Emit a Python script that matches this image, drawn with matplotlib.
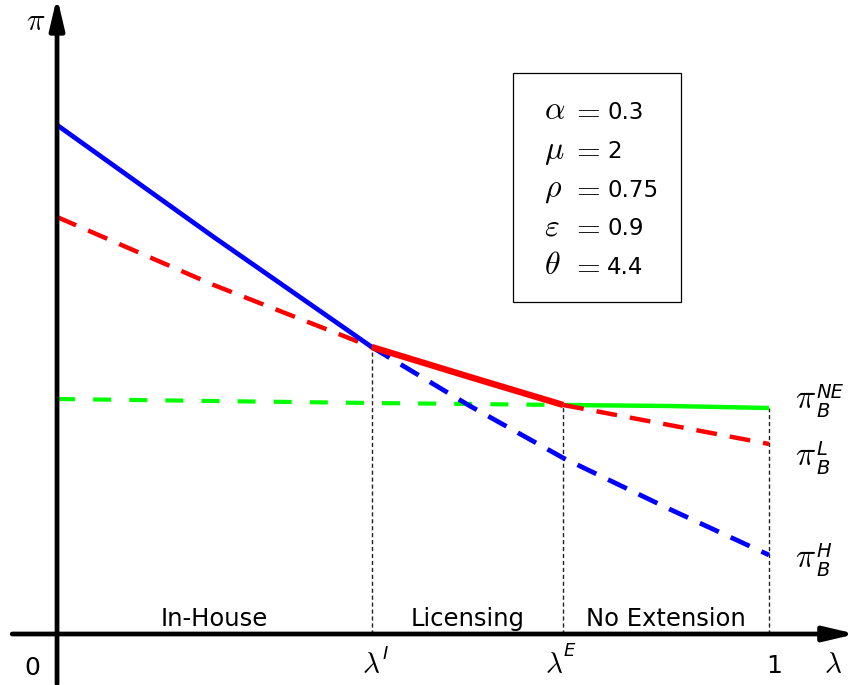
import matplotlib.pyplot as plt
from matplotlib.patches import FancyArrowPatch, Rectangle

plt.rcParams['mathtext.fontset'] = 'cm'
plt.rcParams['lines.scale_dashes'] = False

# profits at a few values of lambda
lam = [0.0, 0.22, 0.442, 0.58, 0.711, 0.86, 1.0]
pi_H = [5.09, 3.97, 2.87, 2.28, 1.76, 1.25, 0.79]
pi_L = [4.17, 3.49, 2.87, 2.57, 2.29, 2.09, 1.90]
pi_NE = [2.35, 2.33, 2.31, 2.30, 2.29, 2.28, 2.26]
I_IDX = 2   # lambda^I
E_IDX = 4   # lambda^E

regions = ['In-House', 'Licensing', 'No Extension']
param_names = [r'\alpha', r'\mu', r'\rho', r'\varepsilon', r'\theta']
param_values = ['0.3', '2', '0.75', '0.9', '4.4']
curve_supers = ['NE', 'L', 'H']

fig = plt.figure(figsize=(8.52, 6.85), dpi=100)
ax = fig.add_axes([0, 0, 1, 1])
ax.set_xlim(-0.0801, 1.1166)
ax.set_ylim(-0.51, 6.34)
ax.axis('off')

dash = (0, (15, 9.4))
dash_g = (0, (13, 13))

# green: no extension
ax.plot(lam[:E_IDX + 1], pi_NE[:E_IDX + 1], color='#00ff00', lw=3.0, linestyle=dash_g, zorder=2)
ax.plot(lam[E_IDX:], pi_NE[E_IDX:], color='#00ff00', lw=3.2, solid_capstyle='butt', zorder=2)
# red: licensing
ax.plot(lam[:I_IDX + 1], pi_L[:I_IDX + 1], color='red', lw=3.2, linestyle=dash, zorder=3)
ax.plot(lam[E_IDX:], pi_L[E_IDX:], color='red', lw=3.2, linestyle=dash, zorder=3)
# blue: in-house
ax.plot(lam[:I_IDX + 1], pi_H[:I_IDX + 1], color='blue', lw=3.4, solid_capstyle='butt', zorder=4)
ax.plot(lam[I_IDX:], pi_H[I_IDX:], color='blue', lw=3.4, linestyle=dash, zorder=4)
ax.plot(lam[I_IDX:E_IDX + 1], pi_L[I_IDX:E_IDX + 1], color='red', lw=4.6, solid_capstyle='butt', zorder=5)

# thin guides down to the axis
ax.plot([lam[I_IDX]] * 2, [0, pi_L[I_IDX]], color='#222222', lw=1.0, linestyle=(0, (3, 2)), zorder=1)
ax.plot([lam[E_IDX]] * 2, [0, pi_L[E_IDX]], color='#222222', lw=1.0, linestyle=(0, (3, 2)), zorder=1)
ax.plot([lam[-1]] * 2, [0, pi_NE[-1]], color='#222222', lw=1.0, linestyle=(0, (3, 2)), zorder=1)

# axes with arrow heads
astyle = '-|>,head_length=0.85,head_width=0.2'
ax.add_patch(FancyArrowPatch((-0.063, 0), (1.122, 0), arrowstyle=astyle, mutation_scale=22,
                             lw=3.4, color='black', shrinkA=0, shrinkB=0, zorder=6, clip_on=False))
ax.add_patch(FancyArrowPatch((0, -0.5), (0, 6.37), arrowstyle=astyle, mutation_scale=22,
                             lw=3.4, color='black', shrinkA=0, shrinkB=0, zorder=6, clip_on=False))

# axis labels
ax.text(-0.044, 6.04, r'$\pi$', fontsize=22, va='baseline')
ax.text(1.077, -0.39, r'$\lambda$', fontsize=21, va='baseline')
ax.text(-0.035, -0.41, '0', fontsize=18, ha='center', va='baseline')
ax.text(1.008, -0.39, '1', fontsize=18, ha='center', va='baseline')
ax.text(0.428, -0.39, r'$\lambda$', fontsize=21, va='baseline')
ax.text(0.457, -0.25, 'I', fontsize=13, fontstyle='italic', va='baseline')
ax.text(0.686, -0.39, r'$\lambda$', fontsize=21, va='baseline')
ax.text(0.712, -0.22, 'E', fontsize=13, fontstyle='italic', va='baseline')

# regime names
bounds = [lam[0], lam[I_IDX], lam[E_IDX], lam[-1]]
for i, name in enumerate(regions):
    ax.text((bounds[i] + bounds[i + 1]) / 2, 0.08, name, fontsize=17.5, ha='center', va='baseline')

# curve labels at the right
label_y = [2.26, 1.69, 0.67]
for sup, y in zip(curve_supers, label_y):
    ax.text(1.037, y, r'$\pi$', fontsize=24, va='baseline')
    ax.text(1.066, y + 0.10, sup, fontsize=14, fontstyle='italic', va='baseline')
    ax.text(1.066, y - 0.09, 'B', fontsize=14, fontstyle='italic', va='baseline')

# parameter box
ax.add_patch(Rectangle((0.6404, 3.32), 0.236, 2.29, fill=False, lw=0.9, edgecolor='black', zorder=6))
for i, (name, val) in enumerate(zip(param_names, param_values)):
    yb = 5.15 - i * 0.388
    ax.text(0.6840, yb, '$' + name + '$', fontsize=23, va='baseline')
    ax.text(0.7225, yb, '$=$', fontsize=22, va='baseline')
    ax.text(0.7725, yb, val, fontsize=16.5, va='baseline')

fig.savefig('out.png', dpi=100)
